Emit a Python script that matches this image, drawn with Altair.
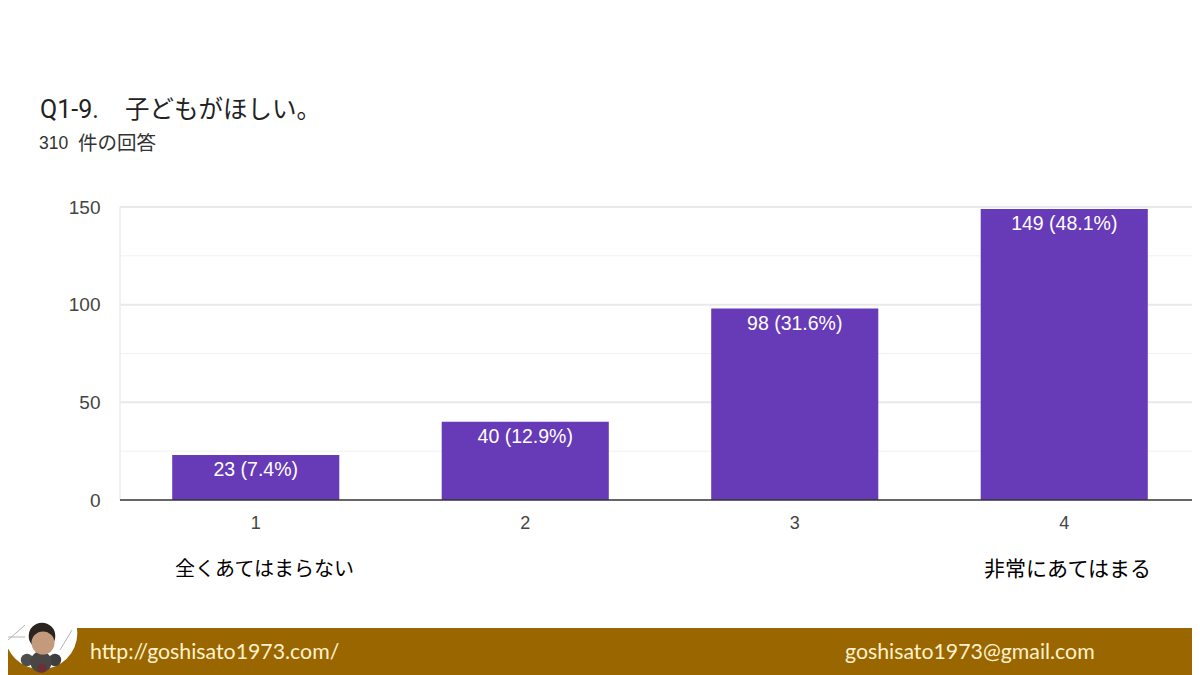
import altair as alt
import pandas as pd

categories = ["1", "2", "3", "4"]
counts = [23, 40, 98, 149]
labels = ["23 (7.4%)", "40 (12.9%)", "98 (31.6%)", "149 (48.1%)"]
major_ticks = [0, 50, 100, 150]
minor_ticks = [25, 75, 125]

W, H = 1072, 293
OX, OY = 120, 207  # page position of the plot origin


def px(x):
    return alt.value(x - OX)


def py(y):
    return alt.value(y - OY)


df = pd.DataFrame({"cat": categories, "n": counts, "label": labels})
x_scale = alt.Scale(domain=categories, paddingInner=0.38, paddingOuter=0.19, range=[1, 1079])
y_scale = alt.Scale(domain=[0, 150], nice=False)
y_axis = alt.Axis(values=major_ticks, labelFont="Liberation Sans", labelFontSize=19,
                  labelColor="#444444", ticks=False, domain=False, labelPadding=20, grid=False)
x_axis = alt.Axis(labelAngle=0, labelFont="Liberation Sans", labelFontSize=18,
                  labelColor="#444444", ticks=False, domain=False, labelPadding=14, grid=False)
Y = lambda f: alt.Y(f, scale=y_scale, title=None, axis=y_axis)

minor = alt.Chart(pd.DataFrame({"v": minor_ticks})).mark_rule(color="#f1f1f1", strokeWidth=1).encode(y=Y("v:Q"))
major = alt.Chart(pd.DataFrame({"v": major_ticks[1:]})).mark_rule(color="#e9e9e9", strokeWidth=2).encode(y=Y("v:Q"))
left = alt.Chart(pd.DataFrame({"v": [0]})).mark_rule(color="#ececec", strokeWidth=1.5).encode(
    x=alt.value(0), y=alt.value(0), y2=alt.value(H))

bars = alt.Chart(df).mark_bar(color="#673ab7").encode(
    x=alt.X("cat:N", scale=x_scale, sort=categories, title=None, axis=x_axis),
    y=Y("n:Q"),
)
baseline = alt.Chart(pd.DataFrame({"v": [0]})).mark_rule(color="#333333", strokeWidth=1.5).encode(y=Y("v:Q"))
bar_text = alt.Chart(df).mark_text(color="white", font="Liberation Sans", fontSize=19.5, dy=15).encode(
    x=alt.X("cat:N", scale=x_scale, sort=categories, title=None, axis=x_axis),
    y=Y("n:Q"),
    text="label:N",
)


def note(text, x, y, size, color, font="Noto Sans CJK JP", align="left"):
    return alt.Chart(pd.DataFrame({"t": [text]})).mark_text(
        font=font, fontSize=size, color=color, align=align, baseline="middle"
    ).encode(x=px(x), y=py(y), text="t:N")


def blob(x, y, r, color):
    return alt.Chart(pd.DataFrame({"v": [0]})).mark_point(
        filled=True, opacity=1, color=color, size=3.1416 * r * r
    ).encode(x=px(x), y=py(y))


def twig(x1, y1, x2, y2):
    return alt.Chart(pd.DataFrame({"v": [0]})).mark_rule(color="#b5b5b5", strokeWidth=1).encode(
        x=px(x1), x2=px(x2), y=py(y1), y2=py(y2))


footer = alt.Chart(pd.DataFrame({"v": [0]})).mark_rect(color="#996600").encode(
    x=px(8), x2=px(1200), y=py(628), y2=py(675))

chart = alt.layer(
    minor, major, left, bars, baseline, bar_text,
    note("Q1-9.", 40, 110, 25, "#222222", font="Roboto"),
    note("子どもがほしい。", 125, 111, 24.5, "#222222"),
    note("310", 39, 144, 17.5, "#333333", font="Liberation Sans"),
    note("件の回答", 78, 144, 19.5, "#333333"),
    note("全くあてはまらない", 264.5, 570, 20, "#000000", align="center"),
    note("非常にあてはまる", 1067.5, 570, 21, "#000000", align="center"),
    footer,
    blob(41, 633, 41, "#ffffff"),
    twig(8, 640, 25, 625), twig(8, 637, 25, 637), twig(60, 650, 72, 630),
    blob(27, 660, 7, "#4e4e4e"),
    blob(55, 660, 7, "#3f3f3f"),
    blob(41, 662, 12, "#4a4646"),
    blob(42, 668, 5, "#6b2f38"),
    blob(42, 636, 15, "#2a2320"),
    blob(43, 643, 13, "#c49a7c"),
    note("http://goshisato1973.com/", 90, 653, 21.3, "#fff2cc", font="Lato"),
    note("goshisato1973@gmail.com", 845, 653, 21.3, "#fff2cc", font="Lato"),
).properties(
    width=W, height=H,
    padding={"left": OX - 8, "top": OY - 8, "right": 0, "bottom": 667 - (OY - 8) - H},
    autosize=alt.AutoSizeParams(type="none"),
).configure_view(stroke=None)

chart.save("out.html", embed_options={"renderer": "svg", "actions": False})
